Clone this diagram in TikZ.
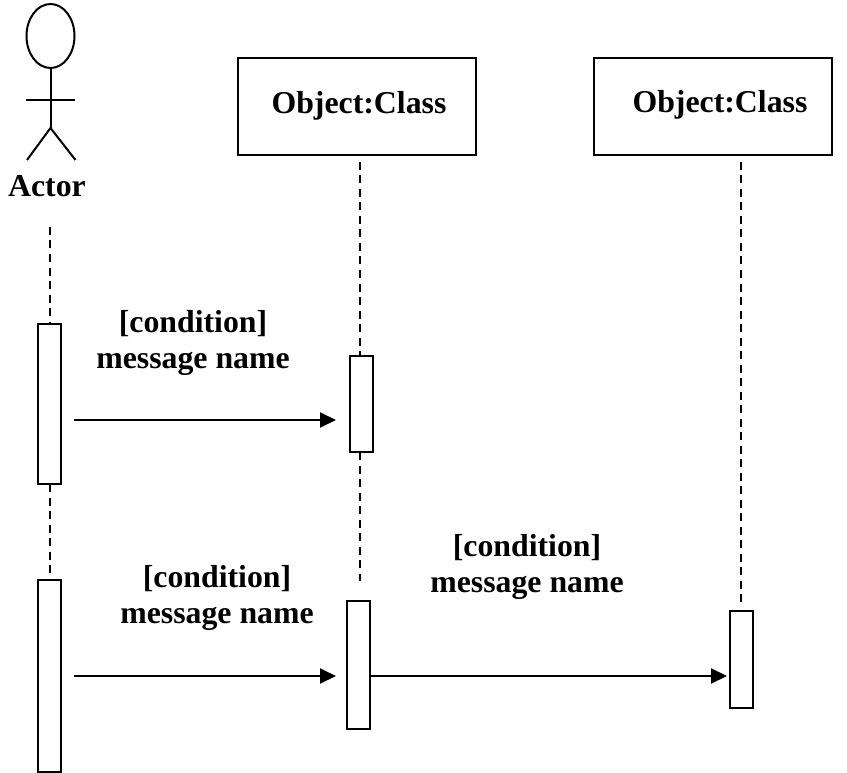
\documentclass[tikz,border=0pt]{standalone}
\usepackage{fontspec}
\setmainfont{Liberation Serif}
\usetikzlibrary{arrows.meta,shapes.geometric}
\tikzset{
  ln/.style={draw=black,line width=2pt},
  objbox/.style={ln,rectangle,minimum width=238pt,minimum height=97pt,inner sep=0pt,fill=white},
  act/.style={ln,rectangle,minimum width=23pt,inner sep=0pt,fill=white},
  lbl/.style={inner sep=0pt,font=\fontsize{31.8}{36}\selectfont\bfseries,anchor=base},
  life/.style={draw=black,line width=2pt,dash pattern=on 8pt off 5.5pt},
  msg/.style={draw=black,line width=2pt,-{Triangle[length=16pt,width=15pt]}}
}
\begin{document}
\begin{tikzpicture}[x=1pt,y=-1pt]
\useasboundingbox (0,0) rectangle (847,773);
% actor
\node[ln,ellipse,minimum width=48pt,minimum height=64pt,inner sep=0pt] (head) at (50.5,36) {};
\coordinate (hip) at (50.5,128);
\coordinate (armL) at (26,100);
\coordinate (armR) at (75,100);
\coordinate (legL) at (27,160);
\coordinate (legR) at (75.5,160);
\draw[ln] (head.south) -- (hip);
\draw[ln] (armL) -- (armR);
\draw[ln] (legL) -- (hip) -- (legR);
\node[lbl] (actor) at (47,197) {Actor};
% objects
\node[objbox] (o1) at (357,106.5) {};
\node[objbox] (o2) at (713,106.5) {};
\node[lbl] (o1t) at (359,114) {Object:Class};
\node[lbl] (o2t) at (720,113) {Object:Class};
% activations
\node[act,minimum height=160pt] (a1) at (49,404) {};
\node[act,minimum height=192pt] (a2) at (49,676) {};
\node[act,minimum height=96pt] (b1) at (361,404) {};
\node[act,minimum height=128pt] (b2) at (358,665) {};
\node[act,minimum height=97pt] (c1) at (741.5,659.5) {};
% lifelines
\coordinate (a0) at (50,227);
\coordinate (a1t) at (50,324);
\coordinate (a1b) at (50,484);
\coordinate (a2t) at (50,575);
\coordinate (b0) at (360,162);
\coordinate (b1t) at (360,356);
\coordinate (b1b) at (360,452);
\coordinate (b2t) at (360,581);
\coordinate (c0) at (741,162);
\coordinate (c1t) at (741,606);
\draw[life] (a0) -- (a1t);
\draw[life] (a1b) -- (a2t);
\draw[life] (b0) -- (b1t);
\draw[life] (b1b) -- (b2t);
\draw[life] (c0) -- (c1t);
% messages
\coordinate (m1s) at (74,420);
\coordinate (m1e) at (336,420);
\coordinate (m2s) at (74,676);
\coordinate (m2e) at (336,676);
\coordinate (m3e) at (727,676);
\draw[msg] (m1s) -- (m1e);
\draw[msg] (m2s) -- (m2e);
\draw[msg] (b2.east |- m3e) -- (m3e);
% labels
\node[lbl] (t1a) at (193,332) {[condition]};
\node[lbl] (t1b) at (193,368.5) {message name};
\node[lbl] (t2a) at (217,587.5) {[condition]};
\node[lbl] (t2b) at (217,623.5) {message name};
\node[lbl] (t3a) at (527,556.5) {[condition]};
\node[lbl] (t3b) at (527,592) {message name};
\end{tikzpicture}
\end{document}
